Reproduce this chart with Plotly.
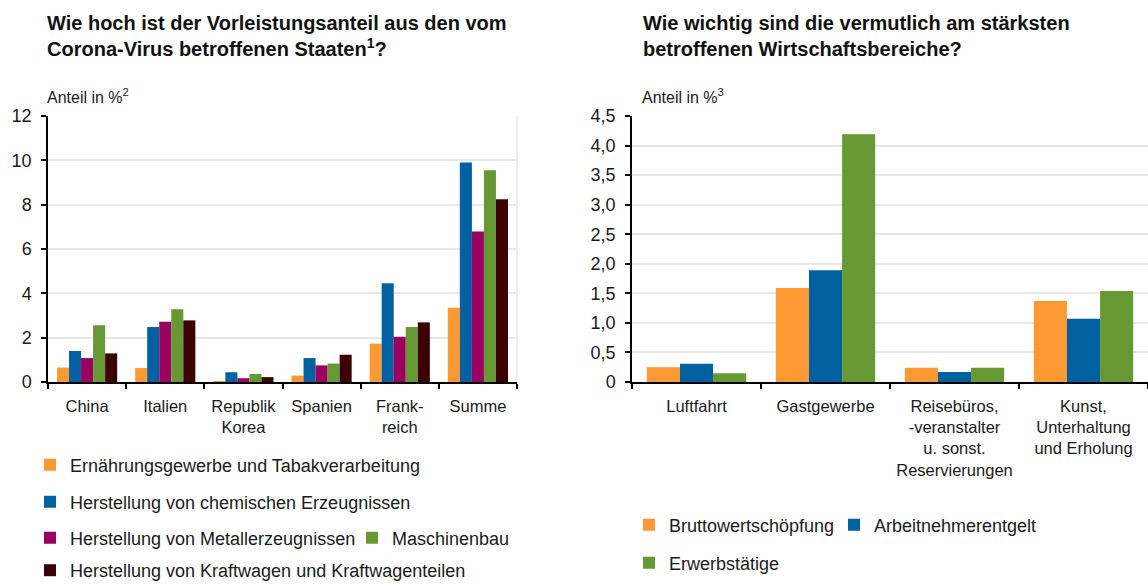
import plotly.graph_objects as go

W, H = 1148, 584

# ---------------- data: left chart ----------------
countries = ["China", "Italien", "Republik<br>Korea", "Spanien", "Frank-<br>reich", "Summe"]
ernaehrung = [0.65, 0.63, 0.03, 0.29, 1.73, 3.35]
chemie = [1.40, 2.48, 0.44, 1.08, 4.46, 9.90]
metall = [1.08, 2.72, 0.17, 0.75, 2.04, 6.79]
maschinen = [2.56, 3.28, 0.36, 0.83, 2.48, 9.55]
kraftwagen = [1.29, 2.78, 0.22, 1.23, 2.69, 8.25]
left_series = [
    ("Ernährungsgewerbe und Tabakverarbeitung", ernaehrung),
    ("Herstellung von chemischen Erzeugnissen", chemie),
    ("Herstellung von Metallerzeugnissen", metall),
    ("Maschinenbau", maschinen),
    ("Herstellung von Kraftwagen und Kraftwagenteilen", kraftwagen),
]
left_ticks = [0, 2, 4, 6, 8, 10, 12]

# ---------------- data: right chart ----------------
sectors = ["Luftfahrt", "Gastgewerbe",
           "Reisebüros,<br>-veranstalter<br>u. sonst.<br>Reservierungen",
           "Kunst,<br>Unterhaltung<br>und Erholung"]
brutto = [0.25, 1.59, 0.24, 1.37]
arbeitnehmer = [0.31, 1.89, 0.17, 1.07]
erwerbs = [0.15, 4.19, 0.24, 1.54]
right_series = [
    ("Bruttowertschöpfung", brutto),
    ("Arbeitnehmerentgelt", arbeitnehmer),
    ("Erwerbstätige", erwerbs),
]
right_tickvals = [0, 0.5, 1.0, 1.5, 2.0, 2.5, 3.0, 3.5, 4.0, 4.5]
right_ticktext = ["0", "0,5", "1,0", "1,5", "2,0", "2,5", "3,0", "3,5", "4,0", "4,5"]

# ---------------- styling ----------------
FONT = "Liberation Sans"
left_colors = ["#FD9933", "#0060A0", "#99005F", "#669933", "#3C0203"]
right_colors = ["#FD9933", "#0060A0", "#669933"]
GRID = "#E8E8E8"
TXT = "#1a1a1a"

def px_x(p):
    return p / W

def px_y(p):
    return 1 - p / H

fig = go.Figure()

# legend placement: (left edge px, y px, anchor)
left_leg_pos = [(30, 465, "middle"), (30, 502, "middle"), (30, 538, "middle"),
                (352, 538, "middle"), (30, 589, "bottom")]
right_leg_pos = [(629, 525, "middle"), (834, 525, "middle"), (629, 563, "middle")]

for i, (name, vals) in enumerate(left_series):
    lg = "legend" if i == 0 else f"legend{i+1}"
    fig.add_trace(go.Bar(x=countries, y=vals, name=name, marker_color=left_colors[i],
                         marker_line_width=0, xaxis="x", yaxis="y", legend=lg))

for j, (name, vals) in enumerate(right_series):
    lg = f"legend{6+j}"
    fig.add_trace(go.Bar(x=sectors, y=vals, name=name, marker_color=right_colors[j],
                         marker_line_width=0, xaxis="x2", yaxis="y2", legend=lg))

legends = {}
for k, (lx, ly, anc) in enumerate(left_leg_pos + right_leg_pos):
    key = "legend" if k == 0 else f"legend{k+1}"
    legends[key] = dict(x=px_x(lx), y=px_y(ly), xanchor="left", yanchor=anc,
                        orientation="h", bgcolor="rgba(0,0,0,0)", borderwidth=0,
                        font=dict(family=FONT, size=18, color=TXT),
                        itemclick=False, itemdoubleclick=False)

ydom = [px_y(382), px_y(116)]
axis_common = dict(showline=True, linecolor="black", linewidth=1.5,
                   ticks="outside", tickcolor="black", ticklen=5, tickwidth=1.5)
xfont = dict(family=FONT, size=16.5, color=TXT)
yfont = dict(family=FONT, size=18, color=TXT)

fig.update_layout(
    width=W, height=H,
    margin=dict(l=0, r=0, t=0, b=0, autoexpand=False),
    paper_bgcolor="white", plot_bgcolor="white",
    barmode="group", bargap=0.23, bargroupgap=0,
    showlegend=True,
    xaxis=dict(domain=[px_x(48), px_x(517)], anchor="y", type="category",
               tickson="boundaries", showgrid=False, tickangle=0, automargin=False,
               ticklabelstandoff=8, tickfont=xfont, **axis_common),
    yaxis=dict(domain=ydom, anchor="x", range=[0, 12], tickvals=left_ticks,
               showgrid=True, gridcolor=GRID, gridwidth=1.5, zeroline=False,
               ticklabelstandoff=6, automargin=False, tickfont=yfont, **axis_common),
    xaxis2=dict(domain=[px_x(632), px_x(1148)], anchor="y2", type="category",
                tickson="boundaries", showgrid=False, tickangle=0, automargin=False,
                ticklabelstandoff=8, tickfont=xfont, **axis_common),
    yaxis2=dict(domain=ydom, anchor="x2", range=[0, 4.5], tickvals=right_tickvals,
                ticktext=right_ticktext, showgrid=True, gridcolor=GRID, gridwidth=1.5,
                zeroline=False, ticklabelstandoff=6, automargin=False, tickfont=yfont,
                **axis_common),
    **legends,
)

# light frame line on the right of the left plot
fig.add_shape(type="line", xref="x domain", yref="y domain", x0=1, x1=1, y0=0, y1=1,
              line=dict(color=GRID, width=1.5), layer="below")

title_font = dict(family=FONT, size=20, color="#111111")
fig.add_annotation(text="<b>Wie hoch ist der Vorleistungsanteil aus den vom<br>Corona-Virus betroffenen Staaten<sup>1</sup>?</b>",
                   x=px_x(45), y=px_y(10), xref="paper", yref="paper", xanchor="left", yanchor="top",
                   align="left", showarrow=False, font=title_font)
fig.add_annotation(text="<b>Wie wichtig sind die vermutlich am stärksten<br>betroffenen Wirtschaftsbereiche?</b>",
                   x=px_x(641), y=px_y(10), xref="paper", yref="paper", xanchor="left", yanchor="top",
                   align="left", showarrow=False, font=title_font)
sub_font = dict(family=FONT, size=16, color=TXT)
fig.add_annotation(text="Anteil in %<sup>2</sup>", x=px_x(45), y=px_y(96), xref="paper", yref="paper",
                   xanchor="left", yanchor="middle", showarrow=False, font=sub_font)
fig.add_annotation(text="Anteil in %<sup>3</sup>", x=px_x(640), y=px_y(96), xref="paper", yref="paper",
                   xanchor="left", yanchor="middle", showarrow=False, font=sub_font)

# remove the default page margin so the figure fills the window exactly
fig.write_html("out.html", config={"displayModeBar": False},
               post_script="document.body.style.margin='0';")
